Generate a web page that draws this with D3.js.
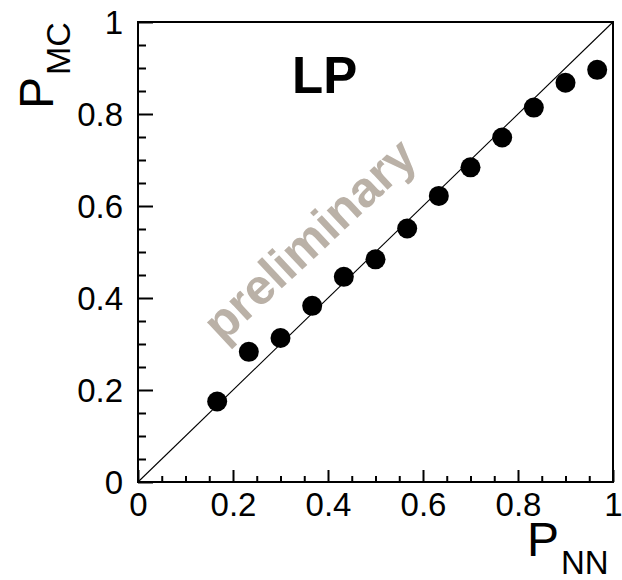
<!DOCTYPE html>
<html>
<head>
<meta charset="utf-8">
<script src="https://cdn.jsdelivr.net/npm/d3@7"></script>
<style>
  html, body { margin: 0; padding: 0; background: #fff; }
  svg { display: block; font-family: "Liberation Sans", Arial, Helvetica, sans-serif; }
</style>
</head>
<body>
<svg id="chart" width="622" height="580"></svg>
<script>
// ---- data ----
const pNN = [0.1667, 0.2333, 0.3000, 0.3667, 0.4333, 0.5000, 0.5667, 0.6333, 0.7000, 0.7667, 0.8333, 0.9000, 0.9667];
const pMC = [0.175, 0.283, 0.313, 0.383, 0.446, 0.484, 0.551, 0.622, 0.684, 0.749, 0.814, 0.868, 0.896];
const majorTicks = [0, 0.2, 0.4, 0.6, 0.8, 1];
const tickLabels = ["0", "0.2", "0.4", "0.6", "0.8", "1"];
const minorTicks = [0.05, 0.1, 0.15, 0.25, 0.3, 0.35, 0.45, 0.5, 0.55, 0.65, 0.7, 0.75, 0.85, 0.9, 0.95];
const diagonal = [[0, 0], [1, 1]];

// ---- layout ----
const L = 138, R = 613, T = 22, B = 482;
const svg = d3.select("#chart");
const x = d3.scaleLinear().domain([0, 1]).range([L, R]);
const y = d3.scaleLinear().domain([0, 1]).range([B, T]);
const fmt = d => tickLabels[majorTicks.indexOf(d)];

// frame
svg.append("rect")
  .attr("x", L).attr("y", T).attr("width", R - L).attr("height", B - T)
  .attr("fill", "none").attr("stroke", "#000").attr("stroke-width", 2);

// diagonal reference line
svg.append("path")
  .datum(diagonal)
  .attr("d", d3.line().x(d => x(d[0])).y(d => y(d[1])))
  .attr("fill", "none").attr("stroke", "#000").attr("stroke-width", 1.1);

// watermark
svg.append("text")
  .attr("transform", "translate(321,252) rotate(-43)")
  .attr("text-anchor", "middle")
  .attr("font-weight", "bold")
  .attr("font-size", 50)
  .attr("fill", "#bab1a7")
  .text("preliminary");

// LP label
svg.append("text")
  .attr("x", 292).attr("y", 93)
  .attr("font-weight", "bold")
  .attr("font-size", 51)
  .attr("fill", "#000")
  .text("LP");

// axes
function styleAxis(g) {
  g.select(".domain").remove();
  g.selectAll("line").attr("stroke", "#000").attr("stroke-width", 2);
  g.selectAll("text").attr("fill", "#000").attr("font-size", 33)
    .attr("font-family", "'Liberation Sans', Arial, sans-serif");
}

svg.append("g").attr("transform", `translate(${L},0)`)
  .call(d3.axisLeft(y).tickValues(minorTicks).tickSize(-8).tickFormat(""))
  .call(styleAxis);
svg.append("g").attr("transform", `translate(${L},0)`)
  .call(d3.axisLeft(y).tickValues(majorTicks).tickSize(-15).tickPadding(15).tickFormat(fmt))
  .call(styleAxis)
  .selectAll("text").attr("dy", "0.36em");

svg.append("g").attr("transform", `translate(0,${B})`)
  .call(d3.axisBottom(x).tickValues(minorTicks).tickSize(-6).tickFormat(""))
  .call(styleAxis);
svg.append("g").attr("transform", `translate(0,${B})`)
  .call(d3.axisBottom(x).tickValues(majorTicks).tickSize(-12).tickPadding(11).tickFormat(fmt))
  .call(styleAxis);

// points
const defs = svg.append("defs");
defs.append("filter").attr("id", "soft")
  .append("feGaussianBlur").attr("stdDeviation", 0.7);

svg.append("g").selectAll("circle")
  .data(pNN.map((v, i) => [v, pMC[i]]))
  .join("circle")
  .attr("cx", d => x(d[0]))
  .attr("cy", d => y(d[1]))
  .attr("r", 10)
  .attr("fill", "#000")
  .attr("filter", "url(#soft)");

// axis titles
const xt = svg.append("text").attr("x", 527).attr("y", 556).attr("fill", "#000");
xt.append("tspan").attr("font-size", 48).text("P");
xt.append("tspan").attr("font-size", 33).attr("dy", 18).attr("dx", 2).text("NN");

const yt = svg.append("text").attr("transform", "translate(53,109) rotate(-90)").attr("fill", "#000");
yt.append("tspan").attr("font-size", 48).text("P");
yt.append("tspan").attr("font-size", 34).attr("dy", 17).attr("dx", 2).text("MC");
</script>
</body>
</html>
